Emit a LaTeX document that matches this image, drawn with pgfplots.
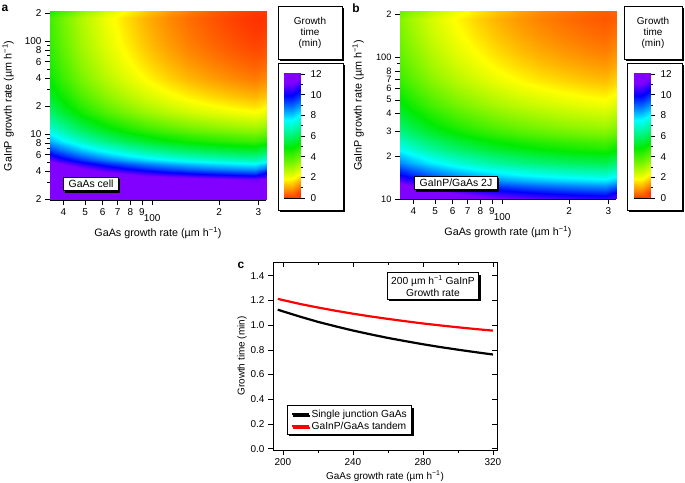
\documentclass[border=0pt]{standalone}
\usepackage{pgfplots}
\pgfplotsset{compat=1.18}
\usepackage{fontspec}
\setmainfont{Liberation Sans}
\usetikzlibrary{shadows}
\tikzset{shbox/.style={draw=black, line width=0.8bp, fill=white,
  drop shadow={shadow xshift=1.8bp, shadow yshift=-1.8bp, opacity=1, fill=black}}}
\pgfplotsset{
  colormap={igor}{rgb255(0pt)=(255,0,0) rgb255(23pt)=(255,255,0) rgb255(53pt)=(0,235,0) rgb255(80pt)=(0,255,255) rgb255(104pt)=(0,0,255) rgb255(116pt)=(130,0,255) rgb255(120pt)=(130,0,255)},
}
\pgfkeys{/pgf/number format/assume math mode=true}
\begin{document}
\begin{tikzpicture}
\path[use as bounding box] (0bp,0bp) rectangle (685bp,483bp);
% boxes behind colorbars
\draw[shbox] (278bp,424bp) rectangle (342bp,477bp);
\draw[shbox] (278bp,273bp) rectangle (343bp,420bp);
\node[align=center, font=\fontsize{10}{11}\selectfont] at (310bp,450.5bp) {Growth\\time\\(min)};
\draw[shbox] (624bp,424bp) rectangle (682bp,477bp);
\draw[shbox] (627bp,273bp) rectangle (682bp,420bp);
\node[align=center, font=\fontsize{10}{11}\selectfont] at (653bp,450.5bp) {Growth\\time\\(min)};
\node[font=\bfseries\fontsize{12}{13}\selectfont] at (5bp,475bp) {a};
\node[font=\bfseries\fontsize{12}{13}\selectfont] at (356bp,475bp) {b};
\node[font=\bfseries\fontsize{12}{13}\selectfont] at (241bp,218bp) {c};

% ---------- panel a ----------
\begin{axis}[width=216bp, height=188bp, at={(50bp,283bp)}, anchor=south west,
  scale only axis, xmode=log, ymode=log,
  xmin=34.8, xmax=325, ymin=1.95, ymax=205,
  axis x line*=bottom, axis y line*=left,
  axis line style={line width=0.8bp},
  tick align=outside, tick style={black, line width=0.6bp},
  major tick length=5bp, minor tick length=3bp,
  xtick={40,50,60,70,80,90,200,300},
  xticklabels={4,5,6,7,8,9,2,3},
  extra x ticks={100}, extra x tick labels={100},
  extra x tick style={tick label style={yshift=-6bp}},
  ytick={2,4,6,8,10,20,40,60,80,100,200},
  yticklabels={2,4,6,8,10,2,4,6,8,100,2},
  minor ytick={3,5,7,9,30,50,70,90},
  tick label style={font=\fontsize{10}{11}\selectfont},
  label style={font=\fontsize{10.8}{12}\selectfont},
  xlabel={GaAs growth rate (µm h\textsuperscript{−1})},
  ylabel={GaInP growth rate (µm h\textsuperscript{−1})},
  xlabel style={at={(axis description cs:0.5,-0.176)}, anchor=center},
  ylabel style={at={(axis description cs:-0.194,0.5)}, anchor=center},
  colormap name=igor, point meta min=0, point meta max=12]
\addplot[matrix plot*, shader=interp, mesh/cols=11, point meta=explicit] coordinates {
(34.8,1.95)[12] (43.5,1.95)[12] (54.4,1.95)[12] (68,1.95)[12] (85,1.95)[12] (106.3,1.95)[12] (132.9,1.95)[12] (166.1,1.95)[12] (207.7,1.95)[12] (259.7,1.95)[12] (325,1.95)[12]

(34.8,3)[12] (43.5,3)[12] (54.4,3)[12] (68,3)[12] (85,3)[12] (106.3,3)[12] (132.9,3)[12] (166.1,3)[12] (207.7,3)[12] (259.7,3)[12] (325,3)[12]

(34.8,3.5)[12] (43.5,3.5)[12] (54.4,3.5)[12] (68,3.5)[12] (85,3.5)[12] (106.3,3.5)[12] (132.9,3.5)[12] (166.1,3.5)[11.92] (207.7,3.5)[11.71] (259.7,3.5)[11.53] (325,3.5)[11.39]

(34.8,4)[12] (43.5,4)[12] (54.4,4)[12] (68,4)[12] (85,4)[11.57] (106.3,4)[11.14] (132.9,4)[10.80] (166.1,4)[10.53] (207.7,4)[10.32] (259.7,4)[10.14] (325,4)[10.00]

(34.8,4.5)[12] (43.5,4.5)[12] (54.4,4.5)[11.68] (68,4.5)[11.02] (85,4.5)[10.49] (106.3,4.5)[10.06] (132.9,4.5)[9.72] (166.1,4.5)[9.45] (207.7,4.5)[9.24] (259.7,4.5)[9.06] (325,4.5)[8.92]

(34.8,5)[12] (43.5,5)[11.64] (54.4,5)[10.81] (68,5)[10.15] (85,5)[9.62] (106.3,5)[9.19] (132.9,5)[8.85] (166.1,5)[8.58] (207.7,5)[8.37] (259.7,5)[8.19] (325,5)[8.05]

(34.8,5.6)[11.83] (43.5,5.6)[10.80] (54.4,5.6)[9.97] (68,5.6)[9.31] (85,5.6)[8.78] (106.3,5.6)[8.35] (132.9,5.6)[8.01] (166.1,5.6)[7.74] (207.7,5.6)[7.53] (259.7,5.6)[7.35] (325,5.6)[7.21]

(34.8,6.3)[11.06] (43.5,6.3)[10.03] (54.4,6.3)[9.20] (68,6.3)[8.54] (85,6.3)[8.01] (106.3,6.3)[7.58] (132.9,6.3)[7.24] (166.1,6.3)[6.97] (207.7,6.3)[6.76] (259.7,6.3)[6.58] (325,6.3)[6.44]

(34.8,7.1)[10.36] (43.5,7.1)[9.33] (54.4,7.1)[8.50] (68,7.1)[7.84] (85,7.1)[7.31] (106.3,7.1)[6.88] (132.9,7.1)[6.54] (166.1,7.1)[6.27] (207.7,7.1)[6.06] (259.7,7.1)[5.88] (325,7.1)[5.74]

(34.8,8)[9.75] (43.5,8)[8.72] (54.4,8)[7.89] (68,8)[7.23] (85,8)[6.70] (106.3,8)[6.27] (132.9,8)[5.93] (166.1,8)[5.66] (207.7,8)[5.45] (259.7,8)[5.27] (325,8)[5.13]

(34.8,9)[9.20] (43.5,9)[8.17] (54.4,9)[7.34] (68,9)[6.68] (85,9)[6.15] (106.3,9)[5.72] (132.9,9)[5.38] (166.1,9)[5.11] (207.7,9)[4.90] (259.7,9)[4.72] (325,9)[4.58]

(34.8,10)[8.77] (43.5,10)[7.74] (54.4,10)[6.91] (68,10)[6.25] (85,10)[5.72] (106.3,10)[5.29] (132.9,10)[4.95] (166.1,10)[4.68] (207.7,10)[4.47] (259.7,10)[4.29] (325,10)[4.15]

(34.8,11.5)[8.26] (43.5,11.5)[7.23] (54.4,11.5)[6.40] (68,11.5)[5.74] (85,11.5)[5.21] (106.3,11.5)[4.78] (132.9,11.5)[4.44] (166.1,11.5)[4.17] (207.7,11.5)[3.96] (259.7,11.5)[3.78] (325,11.5)[3.64]

(34.8,13)[7.87] (43.5,13)[6.84] (54.4,13)[6.01] (68,13)[5.35] (85,13)[4.82] (106.3,13)[4.39] (132.9,13)[4.05] (166.1,13)[3.78] (207.7,13)[3.57] (259.7,13)[3.39] (325,13)[3.25]

(34.8,15)[7.47] (43.5,15)[6.44] (54.4,15)[5.61] (68,15)[4.95] (85,15)[4.42] (106.3,15)[3.99] (132.9,15)[3.65] (166.1,15)[3.38] (207.7,15)[3.17] (259.7,15)[2.99] (325,15)[2.85]

(34.8,18)[7.04] (43.5,18)[6.01] (54.4,18)[5.18] (68,18)[4.52] (85,18)[3.99] (106.3,18)[3.56] (132.9,18)[3.22] (166.1,18)[2.95] (207.7,18)[2.74] (259.7,18)[2.56] (325,18)[2.42]

(34.8,22)[6.64] (43.5,22)[5.61] (54.4,22)[4.78] (68,22)[4.12] (85,22)[3.59] (106.3,22)[3.16] (132.9,22)[2.82] (166.1,22)[2.55] (207.7,22)[2.34] (259.7,22)[2.16] (325,22)[2.02]

(34.8,27)[6.31] (43.5,27)[5.28] (54.4,27)[4.45] (68,27)[3.79] (85,27)[3.26] (106.3,27)[2.83] (132.9,27)[2.49] (166.1,27)[2.22] (207.7,27)[2.01] (259.7,27)[1.83] (325,27)[1.69]

(34.8,34)[6.02] (43.5,34)[4.99] (54.4,34)[4.16] (68,34)[3.50] (85,34)[2.97] (106.3,34)[2.54] (132.9,34)[2.20] (166.1,34)[1.93] (207.7,34)[1.72] (259.7,34)[1.54] (325,34)[1.40]

(34.8,45)[5.74] (43.5,45)[4.71] (54.4,45)[3.88] (68,45)[3.22] (85,45)[2.69] (106.3,45)[2.26] (132.9,45)[1.92] (166.1,45)[1.65] (207.7,45)[1.44] (259.7,45)[1.26] (325,45)[1.12]

(34.8,60)[5.52] (43.5,60)[4.49] (54.4,60)[3.66] (68,60)[3.00] (85,60)[2.47] (106.3,60)[2.04] (132.9,60)[1.70] (166.1,60)[1.43] (207.7,60)[1.22] (259.7,60)[1.04] (325,60)[0.90]

(34.8,80)[5.36] (43.5,80)[4.33] (54.4,80)[3.50] (68,80)[2.84] (85,80)[2.31] (106.3,80)[1.88] (132.9,80)[1.54] (166.1,80)[1.27] (207.7,80)[1.06] (259.7,80)[0.88] (325,80)[0.74]

(34.8,110)[5.22] (43.5,110)[4.19] (54.4,110)[3.36] (68,110)[2.70] (85,110)[2.17] (106.3,110)[1.74] (132.9,110)[1.40] (166.1,110)[1.13] (207.7,110)[0.92] (259.7,110)[0.74] (325,110)[0.60]

(34.8,150)[5.13] (43.5,150)[4.10] (54.4,150)[3.27] (68,150)[2.61] (85,150)[2.08] (106.3,150)[1.65] (132.9,150)[1.31] (166.1,150)[1.04] (207.7,150)[0.83] (259.7,150)[0.65] (325,150)[0.51]

(34.8,210)[5.06] (43.5,210)[4.03] (54.4,210)[3.20] (68,210)[2.54] (85,210)[2.01] (106.3,210)[1.58] (132.9,210)[1.24] (166.1,210)[0.97] (207.7,210)[0.76] (259.7,210)[0.58] (325,210)[0.44]
};
\node[shbox, font=\fontsize{10.5}{12}\selectfont, inner xsep=5bp, inner ysep=3bp] at (rel axis cs:0.19,0.085) {GaAs cell};
\end{axis}

% colorbar a
\begin{axis}[width=16bp, height=124bp, at={(284bp,285bp)}, anchor=south west,
  scale only axis, xmin=0, xmax=1, ymin=0, ymax=12,
  xtick=\empty, ytick={0,2,4,6,8,10,12}, minor ytick={1,3,5,7,9,11},
  ytick pos=right, yticklabel pos=right, tick align=outside,
  major tick length=5bp, minor tick length=3bp,
  tick style={black, line width=0.6bp}, axis line style={line width=0.8bp},
  yticklabel style={font=\fontsize{10}{11}\selectfont, xshift=2bp},
  colormap name=igor, point meta min=0, point meta max=12]
\addplot[matrix plot*, shader=interp, mesh/cols=2, point meta=explicit] coordinates {
(0,0)[0] (1,0)[0]

(0,1)[1] (1,1)[1]

(0,2)[2] (1,2)[2]

(0,3)[3] (1,3)[3]

(0,4)[4] (1,4)[4]

(0,5)[5] (1,5)[5]

(0,6)[6] (1,6)[6]

(0,7)[7] (1,7)[7]

(0,8)[8] (1,8)[8]

(0,9)[9] (1,9)[9]

(0,10)[10] (1,10)[10]

(0,11)[11] (1,11)[11]

(0,12)[12] (1,12)[12]
};
\end{axis}

% ---------- panel b ----------
\begin{axis}[width=216bp, height=187bp, at={(400bp,284bp)}, anchor=south west,
  scale only axis, xmode=log, ymode=log,
  xmin=34.8, xmax=325, ymin=10, ymax=208,
  axis x line*=bottom, axis y line*=left,
  axis line style={line width=0.8bp},
  tick align=outside, tick style={black, line width=0.6bp},
  major tick length=5bp, minor tick length=3bp,
  xtick={40,50,60,70,80,90,200,300},
  xticklabels={4,5,6,7,8,9,2,3},
  extra x ticks={100}, extra x tick labels={100},
  extra x tick style={tick label style={yshift=-6bp}},
  ytick={10,20,30,40,50,60,70,80,100,200},
  yticklabels={10,2,3,4,5,6,7,8,100,2},
  minor ytick={90},
  tick label style={font=\fontsize{10}{11}\selectfont},
  yticklabel style={font=\fontsize{9.3}{10}\selectfont, inner ysep=0pt},
  label style={font=\fontsize{10.8}{12}\selectfont},
  xlabel={GaAs growth rate (µm h\textsuperscript{−1})},
  ylabel={GaInP growth rate (µm h\textsuperscript{−1})},
  xlabel style={at={(axis description cs:0.5,-0.176)}, anchor=center},
  ylabel style={at={(axis description cs:-0.194,0.5)}, anchor=center},
  colormap name=igor, point meta min=0, point meta max=12]
\addplot[matrix plot*, shader=interp, mesh/cols=11, point meta=explicit] coordinates {
(34.8,10)[12] (43.5,10)[12] (54.4,10)[12] (68,10)[12] (85,10)[12] (106.3,10)[12] (132.9,10)[12] (166.1,10)[11.84] (207.7,10)[11.68] (259.7,10)[11.55] (325,10)[11.45]

(34.8,11)[12] (43.5,11)[12] (54.4,11)[12] (68,11)[11.95] (85,11)[11.57] (106.3,11)[11.26] (132.9,11)[11.01] (166.1,11)[10.82] (207.7,11)[10.66] (259.7,11)[10.53] (325,11)[10.43]

(34.8,12)[12] (43.5,12)[12] (54.4,12)[11.58] (68,12)[11.10] (85,12)[10.72] (106.3,12)[10.41] (132.9,12)[10.16] (166.1,12)[9.97] (207.7,12)[9.81] (259.7,12)[9.68] (325,12)[9.58]

(34.8,13)[12] (43.5,13)[11.47] (54.4,13)[10.87] (68,13)[10.39] (85,13)[10.01] (106.3,13)[9.70] (132.9,13)[9.45] (166.1,13)[9.26] (207.7,13)[9.10] (259.7,13)[8.97] (325,13)[8.87]

(34.8,14)[11.60] (43.5,14)[10.85] (54.4,14)[10.25] (68,14)[9.77] (85,14)[9.39] (106.3,14)[9.08] (132.9,14)[8.83] (166.1,14)[8.64] (207.7,14)[8.48] (259.7,14)[8.35] (325,14)[8.25]

(34.8,15.5)[10.83] (43.5,15.5)[10.08] (54.4,15.5)[9.48] (68,15.5)[9.00] (85,15.5)[8.62] (106.3,15.5)[8.31] (132.9,15.5)[8.06] (166.1,15.5)[7.87] (207.7,15.5)[7.71] (259.7,15.5)[7.58] (325,15.5)[7.48]

(34.8,17)[10.19] (43.5,17)[9.44] (54.4,17)[8.84] (68,17)[8.36] (85,17)[7.98] (106.3,17)[7.67] (132.9,17)[7.42] (166.1,17)[7.23] (207.7,17)[7.07] (259.7,17)[6.94] (325,17)[6.84]

(34.8,19)[9.49] (43.5,19)[8.74] (54.4,19)[8.14] (68,19)[7.66] (85,19)[7.28] (106.3,19)[6.97] (132.9,19)[6.72] (166.1,19)[6.53] (207.7,19)[6.37] (259.7,19)[6.24] (325,19)[6.14]

(34.8,21)[8.93] (43.5,21)[8.18] (54.4,21)[7.58] (68,21)[7.10] (85,21)[6.72] (106.3,21)[6.41] (132.9,21)[6.16] (166.1,21)[5.97] (207.7,21)[5.81] (259.7,21)[5.68] (325,21)[5.58]

(34.8,24)[8.27] (43.5,24)[7.52] (54.4,24)[6.92] (68,24)[6.44] (85,24)[6.06] (106.3,24)[5.75] (132.9,24)[5.50] (166.1,24)[5.31] (207.7,24)[5.15] (259.7,24)[5.02] (325,24)[4.92]

(34.8,27)[7.75] (43.5,27)[7.00] (54.4,27)[6.40] (68,27)[5.92] (85,27)[5.54] (106.3,27)[5.23] (132.9,27)[4.98] (166.1,27)[4.79] (207.7,27)[4.63] (259.7,27)[4.50] (325,27)[4.40]

(34.8,31)[7.21] (43.5,31)[6.46] (54.4,31)[5.86] (68,31)[5.38] (85,31)[5.00] (106.3,31)[4.69] (132.9,31)[4.44] (166.1,31)[4.25] (207.7,31)[4.09] (259.7,31)[3.96] (325,31)[3.86]

(34.8,36)[6.71] (43.5,36)[5.96] (54.4,36)[5.36] (68,36)[4.88] (85,36)[4.50] (106.3,36)[4.19] (132.9,36)[3.94] (166.1,36)[3.75] (207.7,36)[3.59] (259.7,36)[3.46] (325,36)[3.36]

(34.8,42)[6.27] (43.5,42)[5.52] (54.4,42)[4.92] (68,42)[4.44] (85,42)[4.06] (106.3,42)[3.75] (132.9,42)[3.50] (166.1,42)[3.31] (207.7,42)[3.15] (259.7,42)[3.02] (325,42)[2.92]

(34.8,50)[5.84] (43.5,50)[5.09] (54.4,50)[4.49] (68,50)[4.01] (85,50)[3.63] (106.3,50)[3.32] (132.9,50)[3.07] (166.1,50)[2.88] (207.7,50)[2.72] (259.7,50)[2.59] (325,50)[2.49]

(34.8,60)[5.47] (43.5,60)[4.72] (54.4,60)[4.12] (68,60)[3.64] (85,60)[3.26] (106.3,60)[2.95] (132.9,60)[2.70] (166.1,60)[2.51] (207.7,60)[2.35] (259.7,60)[2.22] (325,60)[2.12]

(34.8,75)[5.09] (43.5,75)[4.34] (54.4,75)[3.74] (68,75)[3.26] (85,75)[2.88] (106.3,75)[2.57] (132.9,75)[2.32] (166.1,75)[2.13] (207.7,75)[1.97] (259.7,75)[1.84] (325,75)[1.74]

(34.8,95)[4.78] (43.5,95)[4.03] (54.4,95)[3.43] (68,95)[2.95] (85,95)[2.57] (106.3,95)[2.26] (132.9,95)[2.01] (166.1,95)[1.82] (207.7,95)[1.66] (259.7,95)[1.53] (325,95)[1.43]

(34.8,125)[4.50] (43.5,125)[3.75] (54.4,125)[3.15] (68,125)[2.67] (85,125)[2.29] (106.3,125)[1.98] (132.9,125)[1.73] (166.1,125)[1.54] (207.7,125)[1.38] (259.7,125)[1.25] (325,125)[1.15]

(34.8,165)[4.28] (43.5,165)[3.53] (54.4,165)[2.93] (68,165)[2.45] (85,165)[2.07] (106.3,165)[1.76] (132.9,165)[1.51] (166.1,165)[1.32] (207.7,165)[1.16] (259.7,165)[1.03] (325,165)[0.93]

(34.8,210)[4.13] (43.5,210)[3.38] (54.4,210)[2.78] (68,210)[2.30] (85,210)[1.92] (106.3,210)[1.61] (132.9,210)[1.36] (166.1,210)[1.17] (207.7,210)[1.01] (259.7,210)[0.88] (325,210)[0.78]
};
\node[shbox, font=\fontsize{10.5}{12}\selectfont, inner xsep=5bp, inner ysep=3bp] at (rel axis cs:0.259,0.086) {GaInP/GaAs 2J};
\end{axis}

% colorbar b
\begin{axis}[width=16bp, height=124bp, at={(634bp,285bp)}, anchor=south west,
  scale only axis, xmin=0, xmax=1, ymin=0, ymax=12,
  xtick=\empty, ytick={0,2,4,6,8,10,12}, minor ytick={1,3,5,7,9,11},
  ytick pos=right, yticklabel pos=right, tick align=outside,
  major tick length=5bp, minor tick length=3bp,
  tick style={black, line width=0.6bp}, axis line style={line width=0.8bp},
  yticklabel style={font=\fontsize{10}{11}\selectfont, xshift=2bp},
  colormap name=igor, point meta min=0, point meta max=12]
\addplot[matrix plot*, shader=interp, mesh/cols=2, point meta=explicit] coordinates {
(0,0)[0] (1,0)[0]

(0,1)[1] (1,1)[1]

(0,2)[2] (1,2)[2]

(0,3)[3] (1,3)[3]

(0,4)[4] (1,4)[4]

(0,5)[5] (1,5)[5]

(0,6)[6] (1,6)[6]

(0,7)[7] (1,7)[7]

(0,8)[8] (1,8)[8]

(0,9)[9] (1,9)[9]

(0,10)[10] (1,10)[10]

(0,11)[11] (1,11)[11]

(0,12)[12] (1,12)[12]
};
\end{axis}

% ---------- panel c ----------
\begin{axis}[scale only axis, width=224bp, height=188bp, at={(273bp,33bp)}, anchor=south west,
  xmin=194.3, xmax=322.3, ymin=-0.01, ymax=1.51,
  xtick={200,240,280,320}, minor xtick={220,260,300},
  ytick={0,0.2,0.4,0.6,0.8,1.0,1.2,1.4},
  yticklabel style={/pgf/number format/.cd, fixed, fixed zerofill, precision=1},
  xticklabel style={/pgf/number format/.cd, 1000 sep={}},
  tick align=outside, xtick pos=left, ytick pos=left,
  axis line style={line width=0.8bp},
  tick style={black, line width=0.6bp},
  major tick length=5bp, minor tick length=3bp,
  tick label style={font=\fontsize{10}{11}\selectfont},
  label style={font=\fontsize{10}{12}\selectfont},
  xlabel={GaAs growth rate (µm h\textsuperscript{−1})},
  ylabel={Growth time (min)},
  xlabel style={at={(axis description cs:0.5,-0.14)}, anchor=center},
  ylabel style={at={(axis description cs:-0.138,0.5)}, anchor=center},
  legend style={at={(rel axis cs:0.0625,0.08)}, anchor=south west, draw=black, line width=0.8bp,
    fill=white, drop shadow={shadow xshift=1.8bp, shadow yshift=-1.8bp, opacity=1, fill=black},
    font=\fontsize{10.3}{11}\selectfont, inner xsep=3bp, inner ysep=2bp, row sep=-1bp},
  legend cell align=left]
\addplot[black, line width=2.2bp] coordinates {
(197,1.125) (200,1.111) (210,1.067) (220,1.026) (230,0.990) (240,0.956) (250,0.925) (260,0.896) (270,0.870) (280,0.845) (290,0.822) (300,0.801) (310,0.781) (320,0.762)};
\addlegendentry{Single junction GaAs}
\addplot[red, line width=2.2bp] coordinates {
(197,1.212) (200,1.202) (210,1.170) (220,1.142) (230,1.116) (240,1.092) (250,1.070) (260,1.050) (270,1.031) (280,1.013) (290,0.997) (300,0.982) (310,0.968) (320,0.955)};
\addlegendentry{GaInP/GaAs tandem}
\node[shbox, align=center, font=\fontsize{10.3}{12}\selectfont, inner xsep=4bp, inner ysep=3bp] at (rel axis cs:0.714,0.872) {200 µm h\textsuperscript{−1} GaInP\\Growth rate};
\end{axis}
\begin{axis}[scale only axis, width=224bp, height=188bp, at={(273bp,33bp)}, anchor=south west,
  xmin=194.3, xmax=322.3, ymin=-0.01, ymax=1.51,
  xtick={200,240,280,320}, minor xtick={220,260,300},
  ytick={0,0.2,0.4,0.6,0.8,1.0,1.2,1.4},
  xticklabels={}, yticklabels={},
  tick align=inside, xtick pos=right, ytick pos=right,
  axis line style={line width=0.8bp},
  tick style={black, line width=0.6bp},
  major tick length=5bp, minor tick length=3bp]
\end{axis}
\end{tikzpicture}
\end{document}
